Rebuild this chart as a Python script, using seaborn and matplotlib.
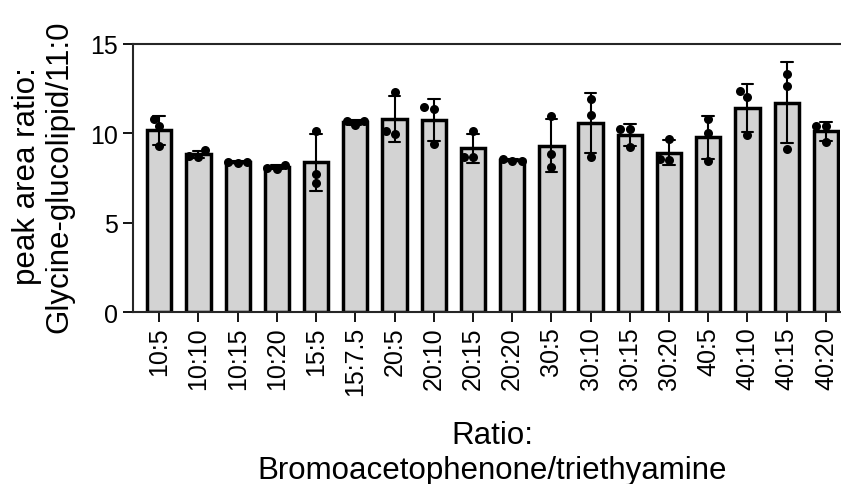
import pandas as pd
import numpy as np
import matplotlib
matplotlib.use("Agg")
import matplotlib.pyplot as plt
import seaborn as sns

sns.set_style('ticks')
plt.rcParams['font.family'] = ['Liberation Sans', 'DejaVu Sans']
plt.rcParams['text.color'] = 'black'
plt.rcParams['axes.labelcolor'] = 'black'
plt.rcParams['xtick.color'] = 'black'
plt.rcParams['ytick.color'] = 'black'

# ratio of bromoacetophenone / triethylamine
categories = ['10:5', '10:10', '10:15', '10:20', '15:5', '15:7.5', '20:5', '20:10', '20:15',
              '20:20', '30:5', '30:10', '30:15', '30:20', '40:5', '40:10', '40:15', '40:20']

# three replicates per condition (peak area ratio)
rep1 = [10.80, 9.05, 8.38, 8.25, 10.15, 10.45, 12.29, 11.45, 10.10,
        8.45, 10.98, 11.92, 10.24, 9.70, 10.80, 12.35, 13.31, 10.42]
rep2 = [10.39, 8.72, 8.42, 8.05, 7.73, 10.70, 9.96, 11.35, 8.70,
        8.55, 8.84, 11.04, 10.24, 8.55, 10.02, 12.01, 12.66, 10.42]
rep3 = [9.27, 8.70, 8.33, 8.02, 7.22, 10.68, 10.15, 9.40, 8.65,
        8.45, 8.10, 8.69, 9.22, 8.50, 8.47, 9.90, 9.12, 9.50]

df = pd.DataFrame({
    'Ratio': categories * 3,
    'value': rep1 + rep2 + rep3,
})

fig = plt.figure(figsize=(8.41, 4.85), dpi=100)
ax = fig.add_axes([133/841, 1 - 313.3/485, 707/841, (313.3 - 44.7)/485])

sns.barplot(data=df, x='Ratio', y='value', order=categories, errorbar='sd',
            color='#d3d3d3', saturation=1, width=0.62, edgecolor='black', linewidth=2.5,
            capsize=0.3, err_kws={'color': 'black', 'linewidth': 1.5}, ax=ax)

sns.swarmplot(data=df, x='Ratio', y='value', order=categories, color='black',
              size=6.5, ax=ax, zorder=5)

ax.set_ylim(0, 15)
ax.set_xlim(-0.67, 17.36)
ax.set_yticks([0, 5, 10, 15])

for side in ['left', 'bottom', 'top']:
    ax.spines[side].set_linewidth(1.5)
ax.spines['right'].set_visible(False)

ax.tick_params(axis='both', direction='out', length=7, width=1.3, labelsize=18, pad=4)
ax.tick_params(axis='x', rotation=90, pad=3)

ax.set_xlabel('Ratio:\nBromoacetophenone/triethyamine', fontsize=22.5, linespacing=1.25)
ax.set_ylabel('peak area ratio:\nGlycine-glucolipid/11:0', fontsize=22.5, linespacing=1.12)
ax.xaxis.set_label_coords(0.508, -0.40)
ax.yaxis.set_label_coords(-0.083, 0.51)

fig.savefig('out.png', dpi=100)
